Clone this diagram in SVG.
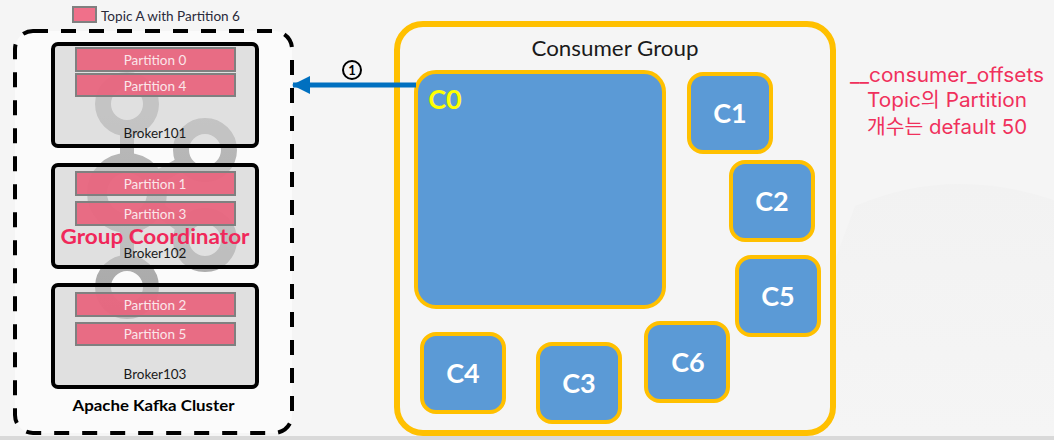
<svg xmlns="http://www.w3.org/2000/svg" width="1054" height="440" viewBox="0 0 1054 440">
<style>
text{font-family:"Lato","Noto Sans","Noto Sans CJK KR",sans-serif}
.ko{font-family:"Inter","Noto Sans CJK KR",sans-serif;font-weight:400}
.br{fill:rgb(203,203,203);fill-opacity:.56;stroke:#000;stroke-width:4}
.pt{fill:#e8637d;fill-opacity:.93;stroke:#808080;stroke-width:2}
.pl{font-size:13.500px;fill:#fbe6ea;text-anchor:middle}
.bl{font-size:13.500px;fill:#1a1a1a;text-anchor:middle}
.c{fill:#5b9ad6;stroke:#ffc000;stroke-width:4}
.cl{font-size:27px;font-weight:700;fill:#fff;text-anchor:middle}
.lg{fill:none;stroke:url(#lg);stroke-width:16}
.rd{fill:#f0305c;text-anchor:middle}
</style>
<defs>
<linearGradient id="lg" gradientUnits="userSpaceOnUse" x1="0" y1="70" x2="0" y2="320"><stop offset="0" stop-color="#bebebe"/><stop offset="1" stop-color="#a8a8a8"/></linearGradient>
<marker id="ah" markerUnits="userSpaceOnUse" markerWidth="18" markerHeight="18" refX="17" refY="9" orient="auto"><path d="M0 0V18L18 9z" fill="#0070c0"/></marker>
<linearGradient id="sw" x1="0" y1="0" x2="0" y2="1"><stop offset="0" stop-color="#f2f2f2"/><stop offset="1" stop-color="#f5f5f5"/></linearGradient>
</defs>
<rect width="1054" height="440" fill="#f5f5f5"/>
<path d="M855 206Q950 165 1054 200V436H835V260z" fill="url(#sw)"/>
<rect y="436" width="1054" height="4" fill="#d9d9d9"/>
<g id="legend"><rect x="73" y="7" width="23" height="15" fill="#f0708a" stroke="#808080" stroke-width="2"/><text x="101" y="21" font-size="13" fill="#2a2a3a" textLength="139" lengthAdjust="spacingAndGlyphs">Topic A with Partition 6</text></g>
<g id="cluster">
<rect x="15" y="31" width="277" height="402" rx="18" fill="#fbfbfb"/>
<g id="logo" class="lg"><circle cx="127" cy="104" r="24"/><circle cx="205" cy="150" r="24"/><circle cx="127" cy="193" r="30" stroke-width="20"/><circle cx="205" cy="240" r="24"/><circle cx="127" cy="287" r="24"/><path d="M127 128V161M127 225V263M158 177L185 162M158 209L185 228" stroke-width="14"/></g>
<rect x="15" y="31" width="277" height="402" rx="18" fill="none" stroke="#000" stroke-width="4" stroke-dasharray="15 13"/>
<text x="153.500" y="411" text-anchor="middle" font-size="15" font-weight="700" fill="#000" textLength="162" lengthAdjust="spacingAndGlyphs">Apache Kafka Cluster</text>
</g>
<g id="broker101"><rect class="br" x="53" y="44" width="204" height="102" rx="5"/><rect class="pt" x="76" y="48" width="159" height="23"/><text class="pl" x="155" y="65">Partition 0</text><rect class="pt" x="76" y="74" width="159" height="22"/><text class="pl" x="155" y="91">Partition 4</text><text class="bl" x="155" y="138">Broker101</text></g>
<g id="broker102"><rect class="br" x="53" y="165" width="204" height="102" rx="5"/><rect class="pt" x="76" y="172" width="159" height="23"/><text class="pl" x="155" y="189">Partition 1</text><rect class="pt" x="76" y="202" width="159" height="23"/><text class="pl" x="155" y="219">Partition 3</text><text class="bl" x="155" y="258">Broker102</text></g>
<g id="broker103"><rect class="br" x="53" y="285" width="204" height="102" rx="5"/><rect class="pt" x="76" y="293" width="159" height="23"/><text class="pl" x="155" y="310">Partition 2</text><rect class="pt" x="76" y="323" width="159" height="22"/><text class="pl" x="155" y="339">Partition 5</text><text class="bl" x="155" y="379">Broker103</text></g>
<text id="gc" x="155" y="244" text-anchor="middle" font-size="21" font-weight="700" fill="#f0285a" textLength="189" lengthAdjust="spacingAndGlyphs">Group Coordinator</text>
<g id="group"><rect x="397" y="24" width="436" height="409" rx="26" fill="#f5f5f5" stroke="#ffc000" stroke-width="6"/><text x="615" y="56" text-anchor="middle" font-size="21" fill="#1a1a1a" textLength="167" lengthAdjust="spacingAndGlyphs">Consumer Group</text></g>
<g id="C0"><rect class="c" x="416" y="72" width="248" height="235" rx="20"/><text x="445" y="109" text-anchor="middle" font-size="27" font-weight="700" fill="#ffff00">C0</text></g>
<g id="C1"><rect class="c" x="689" y="74" width="82" height="78" rx="14"/><text class="cl" x="730" y="123">C1</text></g>
<g id="C2"><rect class="c" x="731" y="162" width="82" height="78" rx="14"/><text class="cl" x="772" y="211">C2</text></g>
<g id="C5"><rect class="c" x="737" y="257" width="82" height="78" rx="14"/><text class="cl" x="778" y="306">C5</text></g>
<g id="C6"><rect class="c" x="646" y="323" width="82" height="78" rx="14"/><text class="cl" x="688" y="372">C6</text></g>
<g id="C3"><rect class="c" x="538" y="344" width="82" height="78" rx="14"/><text class="cl" x="579" y="393">C3</text></g>
<g id="C4"><rect class="c" x="422" y="334" width="82" height="78" rx="14"/><text class="cl" x="463" y="383">C4</text></g>
<g id="connectors"><path d="M416 85H293" fill="none" stroke="#0070c0" stroke-width="5" marker-end="url(#ah)"/></g>
<g id="step"><circle cx="352" cy="70" r="9" fill="none" stroke="#000" stroke-width="2"/><text x="352" y="75" text-anchor="middle" font-size="13" font-weight="700" fill="#000">1</text></g>
<g id="note" font-size="20"><text class="rd ko" x="947" y="82" textLength="194" lengthAdjust="spacingAndGlyphs">__consumer_offsets</text><text class="rd ko" x="947" y="107" textLength="160" lengthAdjust="spacingAndGlyphs">Topic의 Partition</text><text class="rd ko" x="947" y="134" textLength="160" lengthAdjust="spacingAndGlyphs">개수는 default 50</text></g>
</svg>
